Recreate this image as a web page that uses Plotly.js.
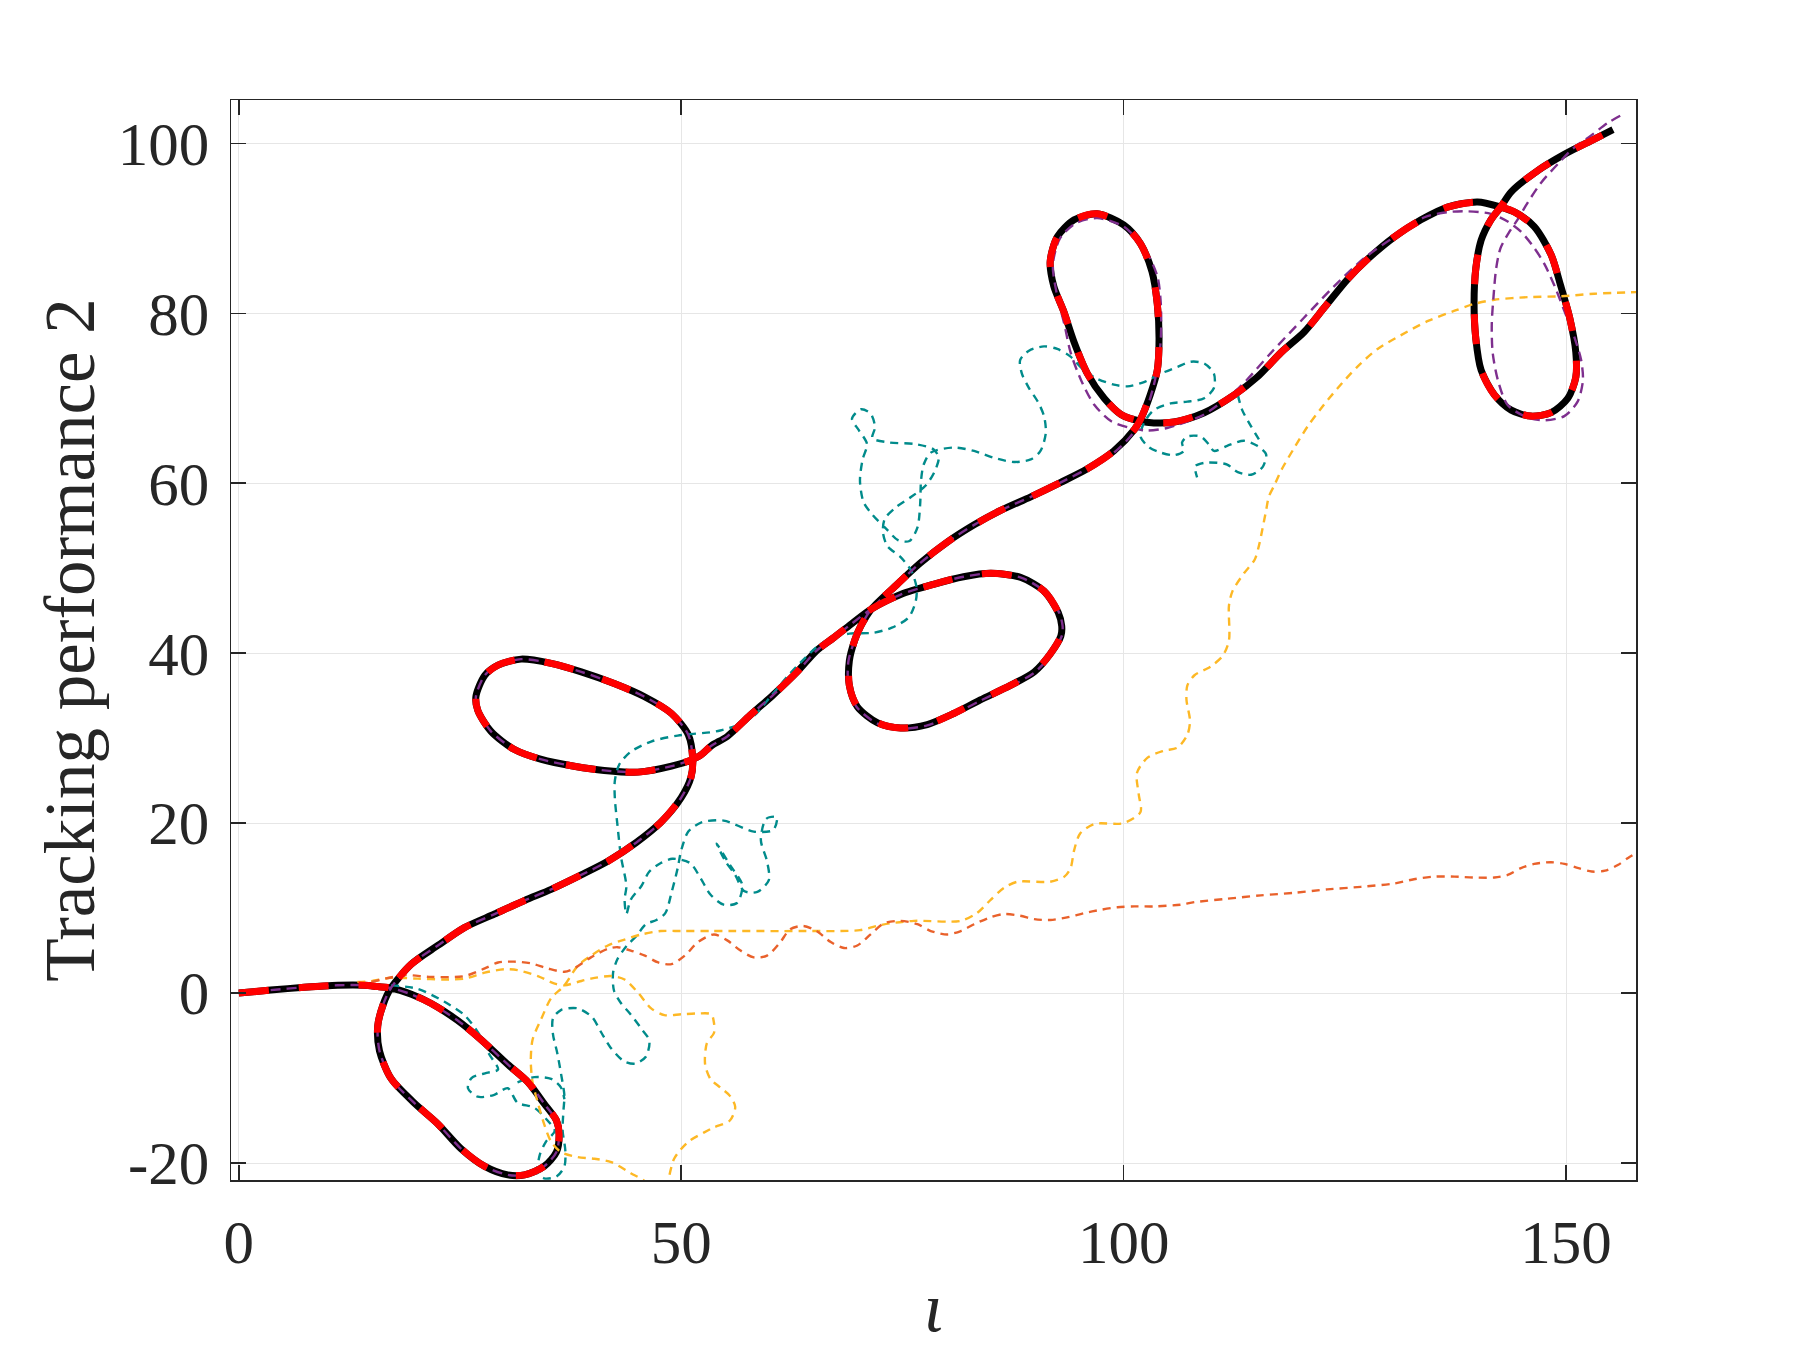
<!DOCTYPE html>
<html>
<head>
<meta charset="utf-8">
<script src="https://cdn.plot.ly/plotly-3.0.1.min.js"></script>
<style>html,body{margin:0;padding:0;background:#fff;}#chart{width:1802px;height:1346px;}</style>
</head>
<body>
<div id="chart"></div>
<script>
// ---------------- data ----------------
const xTickVals = [0, 50, 100, 150];
const xTickText = ['0', '50', '100', '150'];
const yTickVals = [-20, 0, 20, 40, 60, 80, 100];
const yTickText = ['-20', '0', '20', '40', '60', '80', '100'];

// reference trajectory (black solid, red dashed on top)
const mainPath = [[0,0],[3.6,0.35],[7.4,0.68],[11.2,0.92],[14.2,0.92],[15.7,0.76],[17.2,0.6],[19.5,-0.15],[21.7,-1.2],[24.7,-3.2],[27.4,-5.5],[30.4,-8.4],[32.7,-10.5],[34.5,-13.0],[35.9,-15.0],[36.2,-16.6],[35.9,-18.7],[34.5,-20.4],[32.3,-21.4],[30.4,-21.4],[27.8,-20.4],[25.1,-18.3],[22.5,-15.4],[19.8,-12.9],[17.2,-10.05],[15.9,-6.8],[15.7,-3.9],[16.3,-1.4],[17.2,0.6],[19.5,3.4],[22.5,5.6],[25.5,7.7],[28.9,9.3],[32.3,10.9],[35.3,12.2],[38.7,13.9],[41.7,15.5],[44.9,17.7],[47.7,20.1],[50.0,23.0],[51.1,25.4],[51.3,27.5],[50.8,30.4],[48.9,32.9],[45.8,34.9],[42.5,36.4],[38.7,37.8],[35.3,38.8],[31.9,39.3],[29.3,38.6],[27.8,37.4],[26.8,34.9],[27.0,33.3],[28.5,30.8],[31.1,28.7],[34.2,27.5],[37.9,26.7],[41.3,26.2],[45.1,26.0],[48.9,26.7],[51.3,27.5],[52.2,28.0],[53.4,29.1],[55.2,30.2],[57.8,32.7],[60.4,35.1],[63.1,37.8],[65.3,40.3],[67.2,41.8],[69.3,43.5],[71.5,45.2],[74.8,46.9],[78.5,48.1],[81.9,49.0],[85.0,49.4],[88.4,48.9],[91.0,47.3],[92.6,44.8],[93.0,43.2],[92.9,42.0],[91.7,39.9],[89.9,37.8],[87.2,36.2],[83.8,34.5],[80.8,32.9],[77.8,31.6],[74.8,31.2],[72.2,31.8],[69.9,33.7],[69.0,36.2],[69.0,39.1],[69.6,41.5],[70.3,43.2],[71.5,45.2],[74.4,48.1],[77.0,50.6],[80.1,53.1],[83.1,55.1],[86.1,56.8],[89.5,58.4],[92.9,60.1],[95.9,61.7],[98.9,63.8],[101.2,66.3],[101.9,67.5],[103.0,70.4],[103.8,73.3],[104.0,77.0],[103.8,81.1],[103.2,84.9],[101.9,88.2],[100.0,90.4],[97.0,91.7],[94.4,91.0],[92.5,89.0],[91.7,86.1],[92.1,83.2],[93.2,80.3],[94.4,76.6],[95.9,72.9],[97.8,70.0],[99.7,68.1],[101.9,67.3],[103.4,67.1],[105.7,67.2],[109.1,68.3],[112.5,70.4],[115.1,72.5],[117.8,75.4],[120.4,77.8],[122.7,80.7],[125.3,84.0],[127.5,86.3],[130.6,89.0],[133.6,91.0],[136.6,92.5],[140.0,93.1],[142.6,92.5],[144.2,91.9],[146.4,90.2],[148.3,86.9],[149.4,83.2],[150.4,79.5],[151.1,75.4],[151.1,72.5],[150.2,70.0],[148.3,68.3],[146.0,67.9],[143.8,68.6],[141.9,70.4],[140.4,73.3],[139.8,77.0],[139.6,81.1],[139.8,85.3],[140.4,88.6],[141.5,91.0],[142.6,92.5],[143.8,94.3],[146.8,96.8],[149.8,98.7],[152.8,100.3],[155.3,101.6]];

// purple dashed (close to the reference, departs in the last loops)
const purplePath = [[0,0],[3.6,0.35],[7.4,0.68],[11.2,0.92],[14.2,0.92],[15.7,0.76],[17.2,0.6],[19.5,-0.15],[21.7,-1.2],[24.7,-3.2],[27.4,-5.5],[30.4,-8.4],[32.7,-10.5],[34.5,-13.0],[35.9,-15.0],[36.2,-16.6],[35.9,-18.7],[34.5,-20.4],[32.3,-21.4],[30.4,-21.4],[27.8,-20.4],[25.1,-18.3],[22.5,-15.4],[19.8,-12.9],[17.2,-10.05],[15.9,-6.8],[15.7,-3.9],[16.3,-1.4],[17.2,0.6],[19.5,3.4],[22.5,5.6],[25.5,7.7],[28.9,9.3],[32.3,10.9],[35.3,12.2],[38.7,13.9],[41.7,15.5],[44.9,17.7],[47.7,20.1],[50.0,23.0],[51.1,25.4],[51.3,27.5],[50.8,30.4],[48.9,32.9],[45.8,34.9],[42.5,36.4],[38.7,37.8],[35.3,38.8],[31.9,39.3],[29.3,38.6],[27.8,37.4],[26.8,34.9],[27.0,33.3],[28.5,30.8],[31.1,28.7],[34.2,27.5],[37.9,26.7],[41.3,26.2],[45.1,26.0],[48.9,26.7],[51.3,27.5],[52.2,28.0],[53.4,29.1],[55.2,30.2],[57.8,32.7],[60.4,35.1],[63.1,37.8],[65.3,40.3],[67.2,41.8],[69.3,43.5],[71.5,45.2],[74.8,46.9],[78.5,48.1],[81.9,49.0],[85.0,49.4],[88.4,48.9],[91.0,47.3],[92.7,44.8],[93.1,43.2],[93.0,42.0],[91.8,39.8],[89.9,37.7],[87.2,36.1],[83.8,34.4],[80.8,32.8],[77.8,31.5],[74.8,31.1],[72.2,31.7],[69.8,33.7],[68.9,36.2],[68.9,39.1],[69.6,41.5],[70.3,43.2],[71.5,45.2],[74.4,48.1],[77.0,50.6],[80.1,53.1],[83.1,55.1],[86.1,56.8],[89.5,58.4],[92.9,60.1],[95.9,61.7],[98.9,63.6],[101.0,65.8],[102.5,68.5],[103.4,71.5],[103.9,74.2],[104.2,77.0],[104.2,81.1],[103.8,84.4],[102.3,87.7],[100.0,90.2],[97.0,91.2],[94.6,90.6],[92.8,88.8],[92.0,85.7],[92.5,82.0],[93.3,78.7],[94.0,75.4],[95.2,72.1],[96.7,69.2],[98.6,67.3],[100.8,66.5],[102.7,66.2],[104.9,66.5],[107.0,67.2],[109.1,68.1],[113.0,71.2],[116.7,75.4],[120.4,79.5],[123.8,83.2],[127.2,86.5],[130.6,89.0],[134.0,91.3],[136.6,91.9],[138.9,92.0],[141.5,91.7],[143.4,90.8],[144.9,89.6],[146.4,87.7],[147.6,85.7],[148.7,83.2],[149.8,80.3],[151.0,77.0],[151.7,74.5],[151.9,72.1],[151.3,69.6],[149.8,67.9],[147.6,67.4],[145.7,67.7],[143.4,69.2],[142.3,72.1],[141.7,75.4],[141.6,78.7],[141.8,82.0],[142.1,85.3],[142.6,87.7],[143.6,89.6],[144.5,91.0],[145.7,93.1],[147.2,95.4],[149.1,97.6],[150.9,99.5],[152.8,100.9],[154.7,102.4],[156.4,103.4]];

// teal dashed (wandering trajectory)
const tealMain = [[17.2,0.9],[20.2,0.5],[23.2,-1.0],[25.5,-2.6],[27.2,-4.9],[28.3,-7.2],[29.3,-9.0],[28.0,-9.4],[26.3,-10.0],[25.9,-11.2],[27.0,-12.2],[28.8,-12.0],[30.4,-11.2],[31.5,-12.9],[33.4,-13.5],[34.9,-15.0],[35.7,-16.2],[34.7,-17.5],[34.0,-19.1],[33.8,-21.2],[34.5,-21.8],[35.9,-21.6],[36.8,-20.4],[36.9,-18.5],[36.6,-16.2],[36.7,-13.7],[36.8,-12.1],[36.4,-9.4],[36.0,-7.1],[35.5,-4.8],[35.5,-3.0],[36.4,-2.0],[38.3,-1.8],[39.9,-2.8],[41.0,-4.7],[42.0,-6.4],[43.5,-8.0],[44.8,-8.3],[46.0,-7.5],[46.4,-5.6],[45.5,-4.2],[44.2,-2.4],[43.2,-1.2],[42.4,0.3],[42.3,2.4],[42.8,4.0],[43.8,5.5],[45.0,6.8],[46.0,8.1],[47.2,8.6],[48.2,9.4],[48.9,11.8],[49.6,14.7],[50.0,16.8],[50.8,19.0],[52.3,20.1],[54.8,20.3],[58.2,19.0],[60.4,19.2],[60.8,20.7],[59.6,20.5],[59.0,18.0],[59.7,15.5],[59.9,13.3],[58.6,11.9],[57.1,12.0],[56.1,13.9],[55.0,15.5],[54.0,17.6],[55.5,15.1],[56.9,12.7],[56.3,10.6],[54.8,10.4],[53.3,11.6],[52.2,13.5],[51.0,15.3],[49.0,15.8],[47.7,15.3],[46.4,14.3],[45.5,12.6],[44.3,11.0],[43.8,9.3],[43.6,11.0],[43.8,12.6],[43.2,16.0],[42.8,19.7],[42.5,22.9],[42.5,25.0],[43.0,26.9],[44.3,28.4],[46.6,29.6],[49.6,30.3],[53.4,30.7],[54.4,30.9],[56.3,31.5],[58.2,32.6],[60.1,34.9],[62.3,37.6],[65.3,40.7],[67.0,41.8],[69.0,42.3],[71.7,42.4],[73.8,43.0],[75.7,44.2],[76.5,46.1],[76.6,47.7],[76.0,49.7],[74.8,51.3],[73.3,52.6],[72.8,54.2],[73.0,55.8],[74.3,57.2],[76.0,58.4],[77.6,59.7],[78.6,61.3],[79.1,63.0],[78.5,64.0],[76.5,64.6],[73.5,64.8],[71.6,65.3],[71.9,66.6],[71.4,68.2],[70.3,68.7],[69.3,67.6],[70.1,66.2],[71.0,64.6],[70.5,62.8],[70.2,60.3],[70.6,57.8],[71.6,56.3],[73.2,54.6],[74.5,53.3],[75.8,53.2],[76.7,54.8],[77.0,57.5],[77.1,60.3],[77.4,62.2],[78.2,63.6],[80.8,64.2],[83.1,63.8],[85.3,63.0],[87.6,62.5],[89.5,62.8],[90.6,63.8],[91.2,65.9],[91.0,67.9],[90.3,69.6],[89.3,71.2],[88.5,72.9],[88.3,74.5],[89.3,75.6],[91.0,76.1],[92.5,75.8],[94.0,74.9],[95.5,73.3],[97.0,72.3],[98.9,71.6],[100.4,71.4],[102.3,71.9],[104.2,72.9],[106.1,73.7],[107.6,74.3],[109.1,74.1],[110.2,72.9],[110.2,71.2],[109.1,70.0],[107.2,69.6],[105.3,69.4],[103.4,68.6],[102.3,67.1],[101.9,65.5],[102.9,64.2],[104.2,63.6],[105.7,63.3],[106.8,63.8],[106.6,64.8],[107.2,65.5],[108.7,65.5],[109.6,64.6],[110.2,63.8],[111.7,64.4],[113.6,65.0],[115.1,64.4],[116.1,63.4],[115.7,61.9],[114.4,61.0],[112.9,61.3],[111.7,62.2],[110.6,62.4],[109.1,62.4],[108.1,62.0],[108.3,60.7]];
const tealSpurLow = [[31.5,-10.5],[33.4,-9.9],[35.3,-10.1],[36.4,-11.1],[36.8,-12.5]];
const tealSpurHigh = [[112.9,70.4],[113.4,68.6],[114.4,66.7],[115.5,64.8]];

// yellow dashed
const yellowPath = [[13.4,1.3],[14.9,1.4],[17.2,1.8],[20.2,1.7],[23.2,1.6],[25.5,1.7],[27.8,2.4],[30.0,2.8],[31.5,2.7],[33.8,2.0],[35.7,1.1],[36.8,0.9],[38.3,1.3],[39.8,1.7],[42.1,2.0],[43.6,1.6],[45.1,0.06],[46.6,-1.8],[48.1,-2.6],[50.0,-2.5],[51.9,-2.4],[53.4,-2.5],[53.7,-3.5],[53.7,-4.7],[52.9,-5.9],[52.7,-8.4],[53.3,-10.1],[54.4,-11.1],[55.5,-12.1],[56.1,-13.4],[55.5,-15.0],[53.7,-15.8],[52.6,-16.4],[50.8,-17.5],[49.2,-19.5],[48.5,-22.2],[48.0,-24.0],[46.5,-24.0],[45.9,-22.2],[44.3,-21.2],[42.1,-19.9],[40.2,-19.5],[38.3,-19.3],[36.4,-18.7],[35.3,-17.5],[34.5,-15.4],[33.8,-12.9],[33.2,-10.5],[33.0,-8.0],[33.2,-5.5],[34.2,-3.0],[35.3,-0.6],[36.8,0.9],[38.3,3.2],[39.8,4.4],[41.7,5.6],[43.6,6.3],[45.5,6.9],[47.7,7.3],[50.0,7.3],[53.4,7.3],[55.9,7.3],[63.5,7.3],[70.2,7.4],[72.1,7.9],[73.6,8.2],[76.3,8.5],[81.6,8.5],[83.4,9.4],[85.0,11.0],[86.5,12.4],[88.0,13.1],[91.7,13.1],[93.3,13.7],[94.0,14.7],[94.4,16.8],[95.1,18.8],[96.7,19.9],[100.0,20.0],[101.9,21.3],[101.7,23.4],[101.5,25.9],[102.7,27.7],[104.5,28.5],[106.1,28.9],[107.2,30.4],[107.5,32.0],[107.1,34.5],[107.2,36.2],[108.0,37.4],[109.8,38.4],[111.2,39.7],[111.9,41.5],[111.9,45.6],[112.3,47.3],[113.6,49.4],[114.8,51.0],[115.3,52.7],[115.7,54.7],[116.1,56.8],[116.4,58.4],[117.0,59.7],[117.9,61.7],[119.3,64.2],[120.8,66.7],[122.3,68.8],[124.2,71.2],[126.4,73.7],[128.7,75.8],[131.3,77.4],[134.4,79.1],[137.4,80.3],[139.6,81.1],[141.9,81.6],[145.7,81.9],[149.4,82.0],[153.2,82.3],[158.1,82.5]];

// orange-red dashed
const orangePath = [[15.0,1.3],[18.7,2.1],[21.7,1.9],[25.5,2.0],[27.8,2.9],[29.3,3.6],[31.1,3.7],[33.0,3.5],[34.9,2.9],[36.8,2.5],[37.9,2.9],[39.8,4.2],[41.7,5.2],[42.8,5.4],[44.3,5.0],[45.9,4.4],[47.4,3.6],[48.9,3.4],[50.4,4.4],[51.9,6.0],[53.7,6.9],[55.2,6.2],[56.7,5.0],[58.2,4.2],[59.7,4.4],[61.2,6.0],[62.3,7.5],[63.8,7.9],[65.3,7.3],[66.9,6.0],[68.4,5.3],[69.9,5.6],[71.4,6.9],[72.9,8.2],[74.8,8.5],[76.7,8.1],[78.2,7.3],[80.1,6.9],[81.6,7.3],[83.1,8.1],[84.9,8.9],[86.5,9.3],[88.3,9.1],[89.9,8.7],[91.7,8.6],[93.6,8.9],[95.5,9.4],[97.4,9.8],[99.3,10.1],[101.2,10.2],[103.5,10.2],[106.4,10.4],[108.0,10.7],[111.7,11.1],[115.5,11.5],[119.3,11.8],[123.0,12.2],[126.8,12.5],[130.6,12.9],[132.8,13.4],[135.1,13.7],[137.4,13.7],[139.6,13.6],[141.9,13.6],[143.4,13.9],[144.9,14.7],[146.4,15.2],[148.3,15.4],[149.8,15.2],[151.4,14.7],[152.9,14.3],[154.4,14.4],[155.9,15.1],[157.0,15.9],[158.1,16.6]];

// ---------------- helpers ----------------
function xs(p) { return p.map(function (d) { return d[0]; }); }
function ys(p) { return p.map(function (d) { return d[1]; }); }
function joinPieces(pieces) {
  var out = [];
  pieces.forEach(function (p, i) { if (i > 0) out.push([null, null]); out = out.concat(p); });
  return out;
}

const FONT = '"Liberation Serif", "Times New Roman", Times, serif';
const INK = '#262626';
const tealAll = joinPieces([tealMain, tealSpurLow, tealSpurHigh]);

function trace(p, color, width, dash) {
  return {
    x: xs(p), y: ys(p), type: 'scatter', mode: 'lines',
    line: { color: color, width: width, dash: dash, shape: 'spline', smoothing: 0.8 },
    connectgaps: false, hoverinfo: 'skip', showlegend: false
  };
}

const data = [
  trace(mainPath, '#000000', 7, 'solid'),
  trace(tealAll, '#008B8B', 2.4, '8px,6px'),
  trace(yellowPath, '#FDB825', 2.4, '8px,6px'),
  trace(orangePath, '#E9612B', 2.4, '8px,6px'),
  trace(purplePath, '#7E2F8E', 2.4, '10px,6px'),
  trace(mainPath, '#FF0000', 7, '30px,30px')
];

const axisCommon = {
  showline: true, linecolor: INK, linewidth: 1.5, mirror: 'ticks',
  ticks: 'inside', ticklen: 15, tickwidth: 1.5, tickcolor: INK,
  showgrid: true, gridcolor: '#e6e6e6', gridwidth: 1,
  zeroline: false, tickmode: 'array',
  tickfont: { family: FONT, size: 61, color: INK }
};

const layout = {
  width: 1802, height: 1346,
  margin: { l: 231, r: 166, t: 100, b: 166, autoexpand: false },
  paper_bgcolor: '#ffffff', plot_bgcolor: '#ffffff',
  showlegend: false,
  xaxis: Object.assign({}, axisCommon, {
    range: [-0.88, 157.9], tickvals: xTickVals, ticktext: xTickText,
    ticklabelstandoff: 8,
    title: { text: '<i>ι</i>', font: { family: FONT, size: 70, color: INK }, standoff: 54 }
  }),
  yaxis: Object.assign({}, axisCommon, {
    range: [-22.0, 105.1], tickvals: yTickVals, ticktext: yTickText,
    ticklabelstandoff: 8,
    title: { text: 'Tracking performance 2', font: { family: FONT, size: 71, color: INK }, standoff: 0 }
  })
};

Plotly.newPlot('chart', data, layout, { staticPlot: true, displayModeBar: false });
</script>
</body>
</html>
